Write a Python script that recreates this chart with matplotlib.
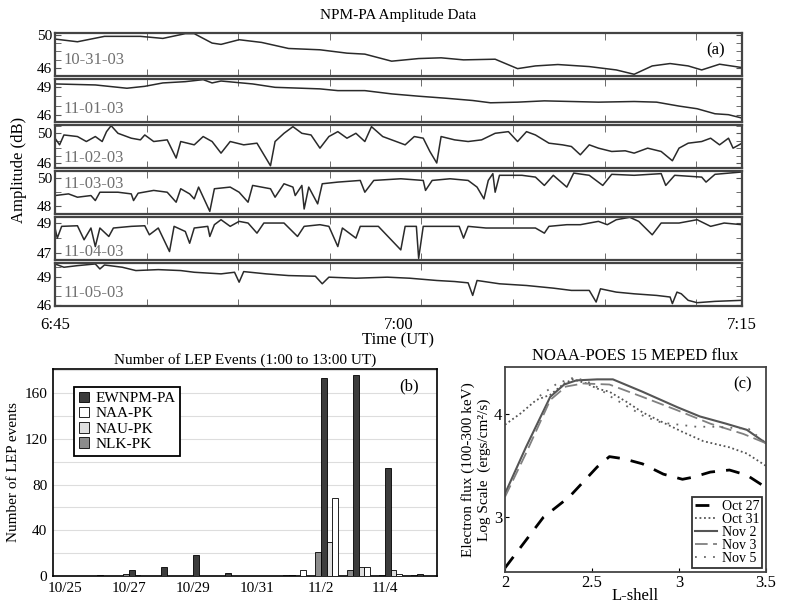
import numpy as np
import matplotlib
matplotlib.use("Agg")
import matplotlib.pyplot as plt
from matplotlib.ticker import FixedLocator

plt.rcParams['font.family'] = ['Liberation Serif', 'DejaVu Serif']
plt.rcParams['font.size'] = 11

# ---- panel (a): NPM-PA amplitude, minutes after 6:45 UT, dB ----
dates_a = ['10-31-03', '11-01-03', '11-02-03', '11-03-03', '11-04-03', '11-05-03']

t1 = [0, 0.98, 2.16, 3.73, 4.71, 5.69, 6.08, 6.86, 7.25, 8.04, 9.02, 10.2, 11.57, 12.75, 13.53,
      14.7, 15.88, 16.86, 17.84, 19.22, 20.2, 20.98, 21.96, 23.33, 24.51, 25.29, 26.08, 26.86,
      27.65, 28.24, 29.02, 30]
a1 = [49.51, 49.18, 49.84, 49.84, 49.59, 50.17, 50.17, 49.02, 48.86, 49.43, 49.10, 48.36, 48.20,
      47.79, 47.67, 46.81, 47.13, 47.22, 46.97, 47.05, 45.90, 46.23, 46.40, 46.15, 45.74, 45.21,
      46.23, 46.52, 46.23, 45.74, 46.44, 46.03]

t2 = [0, 1.76, 3.14, 3.92, 4.71, 5.69, 6.47, 6.86, 7.25, 8.63, 9.61, 10.78, 11.57, 12.35, 13.53,
      14.71, 15.88, 17.06, 18.24, 19.02, 20.2, 21.37, 22.55, 23.73, 25.29, 26.27, 27.25, 28.04,
      28.82, 29.41, 30]
a2 = [49.36, 49.25, 48.89, 49.10, 49.47, 49.61, 49.83, 49.47, 49.68, 49.36, 48.99, 48.89, 48.82,
      48.63, 48.63, 48.27, 48.02, 47.80, 47.55, 47.30, 47.37, 47.51, 47.44, 47.37, 47.44, 47.37,
      46.94, 46.65, 46.10, 46.00, 45.63]

t3 = [0, 0.2, 0.39, 0.98, 1.37, 1.76, 2.06, 2.25, 2.45, 2.75, 3.33, 3.73, 3.92, 4.31, 4.9, 5.29,
      5.49, 6.08, 6.47, 6.86, 7.25, 7.65, 8.24, 8.82, 9.41, 9.61, 10.0, 10.39, 10.78, 11.18, 11.57,
      11.96, 12.35, 12.75, 13.14, 13.53, 13.82, 14.31, 14.9, 15.29, 15.69, 16.08, 16.37, 16.67,
      16.86, 17.45, 18.04, 18.63, 19.22, 19.8, 20.2, 20.59, 20.98, 21.57, 22.16, 22.55, 22.94,
      23.33, 23.73, 24.31, 24.9, 25.29, 25.88, 26.47, 26.96, 27.25, 27.65, 28.24, 28.63, 29.02,
      29.41, 29.61, 30]
a3 = [49.35, 48.47, 49.78, 49.57, 48.91, 49.57, 48.91, 50.22, 51.01, 50.00, 49.35, 49.13, 49.78,
      48.91, 49.13, 46.72, 48.91, 48.47, 49.57, 48.91, 47.37, 48.91, 48.47, 48.69, 45.70, 48.91,
      50.00, 50.88, 50.00, 49.78, 48.03, 49.57, 50.22, 49.35, 50.00, 48.91, 50.88, 49.57, 48.91,
      48.47, 49.57, 49.35, 47.59, 46.06, 49.57, 49.13, 48.91, 49.13, 50.00, 50.22, 48.91, 50.22,
      49.78, 48.69, 48.47, 48.25, 47.15, 48.47, 48.03, 47.59, 47.68, 47.37, 48.03, 47.59, 46.36,
      48.03, 48.69, 48.91, 49.35, 48.47, 49.35, 48.03, 48.69]

t4 = [0, 0.59, 0.98, 1.57, 1.76, 1.96, 2.75, 3.33, 3.43, 3.63, 4.31, 4.9, 5.29, 5.49, 5.88, 6.08,
      6.27, 6.76, 6.96, 7.65, 8.04, 8.43, 8.63, 9.41, 9.61, 10.0, 10.39, 10.49, 10.78, 10.88, 11.08,
      11.47, 11.67, 12.35, 13.33, 13.53, 13.92, 15.1, 16.08, 16.18, 16.47, 17.25, 18.04, 18.43,
      18.73, 18.92, 19.12, 19.22, 19.41, 20.39, 20.98, 21.37, 21.76, 22.35, 22.65, 23.33, 23.92,
      24.31, 25.29, 26.47, 26.67, 27.06, 28.24, 28.43, 28.82, 30]
a4 = [48.73, 48.85, 48.61, 48.73, 48.37, 48.97, 48.97, 48.85, 48.37, 48.90, 49.10, 48.97, 48.25,
      49.22, 48.85, 48.49, 49.34, 47.59, 49.22, 49.34, 48.97, 48.25, 49.46, 49.22, 48.61, 49.58,
      49.34, 48.73, 49.46, 47.76, 49.34, 48.13, 49.58, 49.70, 49.82, 48.97, 49.82, 49.94, 49.82,
      49.10, 49.82, 49.94, 49.82, 49.34, 48.49, 49.82, 50.31, 48.97, 50.19, 50.19, 50.06, 49.46,
      50.19, 49.34, 50.35, 50.19, 49.46, 50.26, 50.19, 50.31, 49.46, 50.19, 50.06, 49.70, 50.26,
      50.43]

t5 = [0, 0.1, 0.29, 0.98, 1.27, 1.57, 1.76, 1.96, 2.35, 2.55, 3.33, 3.92, 4.12, 4.51, 5.0, 5.2,
      5.69, 5.88, 6.08, 6.67, 6.76, 6.96, 7.25, 7.65, 8.04, 8.43, 8.82, 9.12, 10.0, 10.59, 10.88,
      11.57, 11.96, 12.35, 12.55, 13.14, 13.33, 14.12, 15.1, 15.29, 15.78, 15.88, 16.08, 17.06,
      17.65, 17.84, 18.04, 18.82, 20.2, 20.98, 21.37, 21.57, 22.35, 22.94, 23.73, 24.12, 24.51,
      25.1, 25.49, 26.08, 26.47, 27.25, 28.04, 28.63, 29.22, 30]
a5 = [48.67, 48.00, 48.78, 48.82, 47.89, 48.67, 47.44, 48.67, 48.11, 48.67, 48.78, 48.82, 48.22,
      48.67, 47.11, 48.78, 48.44, 47.66, 48.67, 48.78, 48.11, 48.89, 49.22, 48.78, 49.11, 49.00,
      48.33, 49.00, 49.00, 48.11, 48.78, 48.89, 48.78, 47.44, 48.67, 48.00, 48.78, 48.78, 47.22,
      48.78, 48.78, 46.66, 48.78, 48.78, 48.78, 48.00, 48.78, 48.67, 48.67, 48.67, 48.33, 48.78,
      48.89, 48.89, 49.11, 48.89, 49.22, 49.38, 49.11, 48.22, 49.00, 49.00, 49.22, 48.78, 49.00,
      48.89]

t6 = [0, 0.39, 0.98, 1.76, 1.96, 2.16, 2.94, 3.53, 4.51, 5.49, 6.08, 7.25, 7.84, 8.04, 8.24, 9.22,
      10.2, 11.37, 11.67, 11.96, 13.14, 14.51, 15.49, 16.67, 17.45, 18.04, 18.24, 18.43, 19.41,
      20.59, 21.76, 22.55, 23.33, 23.63, 23.82, 24.51, 25.29, 26.27, 26.86, 26.96, 27.16, 27.35,
      27.65, 28.04, 28.82, 30]
a6 = [50.35, 50.00, 50.17, 50.35, 49.82, 50.24, 50.00, 49.65, 49.75, 49.65, 49.47, 49.30, 49.47,
      48.42, 49.54, 49.30, 49.12, 49.05, 48.25, 48.95, 48.84, 48.95, 48.84, 48.60, 48.49, 48.35,
      47.02, 48.60, 48.25, 48.07, 47.79, 47.55, 47.55, 46.32, 47.72, 47.37, 47.19, 47.02, 46.85,
      46.15, 47.37, 47.19, 46.50, 46.25, 46.39, 46.50]

times_a = [t1, t2, t3, t4, t5, t6]
amps_a = [a1, a2, a3, a4, a5, a6]
ylims_a = [(45.0, 50.25), (45.2, 49.9), (45.4, 51.1), (47.4, 50.5), (46.55, 49.4), (45.9, 50.45)]
yticks_a = [[46, 50], [46, 49], [46, 50], [48, 50], [47, 49], [46, 49]]
date_y = [0.37, 0.31, 0.23, 0.69, 0.19, 0.31]

# ---- panel (b): LEP event counts per day ----
days_b = ['10/25', '10/26', '10/27', '10/28', '10/29', '10/30', '10/31',
          '11/1', '11/2', '11/3', '11/4', '11/5']
ewnpm = [0, 1, 5, 8, 18, 3, 0, 1, 173, 176, 94, 2]
naa = [0, 0, 0, 0, 0, 0, 0, 5, 68, 8, 2, 0]
nau = [0, 0, 1, 0, 0, 0, 0, 0, 30, 8, 5, 0]
nlk = [0, 0, 2, 0, 0, 0, 0, 1, 21, 5, 1, 1]

# ---- panel (c): POES flux vs L-shell ----
L_oct27 = [2.0, 2.22, 2.37, 2.53, 2.6, 2.68, 2.79, 2.91, 3.02, 3.08, 3.18, 3.29, 3.39, 3.5]
f_oct27 = [2.51, 3.0, 3.2, 3.49, 3.59, 3.57, 3.52, 3.42, 3.37, 3.39, 3.44, 3.46, 3.41, 3.29]
L_oct31 = [2.0, 2.09, 2.18, 2.26, 2.34, 2.39, 2.47, 2.53, 2.6, 2.7, 2.79, 2.91, 3.02, 3.14, 3.29, 3.39, 3.5]
f_oct31 = [3.9, 4.01, 4.14, 4.19, 4.30, 4.34, 4.30, 4.25, 4.22, 4.12, 4.02, 3.92, 3.83, 3.74, 3.68, 3.62, 3.5]
L_nov2 = [2.0, 2.12, 2.26, 2.34, 2.41, 2.53, 2.62, 2.79, 2.99, 3.12, 3.27, 3.39, 3.5]
f_nov2 = [3.23, 3.68, 4.17, 4.29, 4.33, 4.34, 4.34, 4.22, 4.07, 3.98, 3.91, 3.85, 3.72]
L_nov3 = [2.0, 2.12, 2.26, 2.35, 2.45, 2.6, 2.79, 2.99, 3.18, 3.37, 3.5]
f_nov3 = [3.2, 3.62, 4.14, 4.27, 4.30, 4.29, 4.17, 4.04, 3.91, 3.81, 3.72]
L_nov5 = [2.2, 2.3, 2.4, 2.5, 2.6, 2.7, 2.8, 2.9, 3.0, 3.1, 3.2, 3.3, 3.4, 3.5]
f_nov5 = [4.18, 4.3, 4.36, 4.3, 4.18, 4.08, 3.98, 3.92, 3.9, 3.88, 3.88, 3.87, 3.86, 3.72]

W, H = 788, 603
fig = plt.figure(figsize=(W / 100, H / 100), dpi=100)


def px_axes(left, top, right, bottom):
    return fig.add_axes([left / W, 1 - bottom / H, (right - left) / W, (bottom - top) / H])


# top stack
panel_top, panel_h, gap = 33, 43, 3
axes_a = []
for i in range(6):
    top = panel_top + i * (panel_h + gap)
    ax = px_axes(55, top, 742, top + panel_h)
    ax.plot(times_a[i], amps_a[i], color='#2a2a2a', lw=1.1)
    ax.set_xlim(0, 30)
    ax.set_ylim(*ylims_a[i])
    ax.set_yticks(yticks_a[i])
    lo, hi = ylims_a[i]
    ax.yaxis.set_minor_locator(FixedLocator(list(range(int(np.ceil(lo)), int(hi) + 1))))
    ax.set_xticks([0, 15, 30])
    ax.xaxis.set_minor_locator(FixedLocator([4, 8, 12, 16, 20, 24, 28]))
    ax.tick_params(which='major', axis='x', length=0)
    ax.tick_params(which='minor', axis='x', length=5, direction='in', top=True, bottom=True, color='#555')
    ax.tick_params(which='both', axis='y', direction='in', left=True, right=True, length=4,
                   color='#555', labelsize=11, pad=2)
    if i < 5:
        ax.set_xticklabels([])
    else:
        ax.set_xticklabels(['6:45', '7:00', '7:15'], fontsize=12)
        ax.tick_params(axis='x', which='major', pad=8)
    for s in ax.spines.values():
        s.set_linewidth(1.6)
        s.set_color('#444')
    ax.text(0.012, date_y[i], dates_a[i], transform=ax.transAxes, color='#707070',
            fontsize=12, va='center', ha='left')
    axes_a.append(ax)

axes_a[0].text(0.962, 0.6, '(a)', transform=axes_a[0].transAxes, ha='center', va='center', fontsize=12)
fig.text(398 / W, 1 - 15 / H, 'NPM-PA Amplitude Data', ha='center', va='center', fontsize=11)
fig.text(19 / W, 1 - 170 / H, 'Amplitude (dB)', rotation=90, ha='center', va='center', fontsize=12)
fig.text(398 / W, 1 - 340 / H, 'Time (UT)', ha='center', va='center', fontsize=12)

# panel (b)
axb = px_axes(53, 369, 437, 576)
x = np.arange(len(days_b))
bw = 0.18
axb.bar(x - 0.11, nlk, bw, color='#8c8c8c', edgecolor='black', lw=0.6, label='NLK-PK', zorder=3)
axb.bar(x + 0.08, ewnpm, bw, color='#3c3c3c', edgecolor='black', lw=0.6, label='EWNPM-PA', zorder=3)
axb.bar(x + 0.26, nau, bw, color='#dedede', edgecolor='black', lw=0.6, label='NAU-PK', zorder=3)
axb.bar(x + 0.43, naa, bw, color='white', edgecolor='black', lw=0.6, label='NAA-PK', zorder=3)
axb.set_xlim(-0.38, 11.62)
axb.set_ylim(0, 181)
axb.set_xticks(x[::2])
axb.set_xticklabels(days_b[::2], fontsize=11)
axb.set_yticks([0, 40, 80, 120, 160])
axb.yaxis.set_minor_locator(FixedLocator([20, 60, 100, 140, 180]))
axb.yaxis.grid(True, which='both', color='#dddddd', lw=0.8, zorder=0)
axb.tick_params(axis='both', which='both', length=0, labelsize=11, pad=4)
for s in axb.spines.values():
    s.set_linewidth(1.2)
axb.set_title('Number of LEP Events (1:00 to 13:00 UT)', fontsize=11, pad=4)
axb.set_ylabel('Number of LEP events', fontsize=11)
axb.yaxis.set_label_coords(-0.086, 0.5)
h, l = axb.get_legend_handles_labels()
order = [1, 3, 2, 0]
legb = axb.legend([h[k] for k in order], [l[k] for k in order], loc='upper left',
                  bbox_to_anchor=(0.035, 0.95), fontsize=11, handlelength=0.7, handleheight=0.7,
                  handletextpad=0.4, labelspacing=0.1, borderpad=0.3, fancybox=False,
                  edgecolor='black', framealpha=1)
legb.get_frame().set_linewidth(1.3)
axb.text(0.927, 0.918, '(b)', transform=axb.transAxes, ha='center', va='center', fontsize=12)

# panel (c)
axc = px_axes(505, 367, 766, 572)
axc.plot(L_oct27, f_oct27, color='black', lw=2.0, dashes=(5, 4), label='Oct 27')
axc.plot(L_oct31, f_oct31, color='#555555', lw=1.3, dashes=(1, 1.5), label='Oct 31')
axc.plot(L_nov2, f_nov2, color='#555555', lw=1.5, label='Nov 2')
axc.plot(L_nov3, f_nov3, color='#808080', lw=1.3, dashes=(7, 3), label='Nov 3')
axc.plot(L_nov5, f_nov5, color='#666666', lw=1.3, dashes=(1, 4), label='Nov 5')
axc.set_xlim(2, 3.5)
axc.set_ylim(2.47, 4.46)
axc.set_xticks([2, 2.5, 3, 3.5])
axc.set_xticklabels(['2', '2.5', '3', '3.5'])
axc.set_yticks([3, 4])
axc.tick_params(axis='both', direction='in', length=3, labelsize=12, pad=2)
for s in axc.spines.values():
    s.set_linewidth(1.3)
    s.set_color('#444')
axc.set_title('NOAA-POES 15 MEPED flux', fontsize=12, pad=5)
axc.set_xlabel('L-shell', fontsize=12, labelpad=-2)
axc.set_ylabel('Electron flux (100-300 keV)\nLog Scale  (ergs/cm²/s)', fontsize=11, labelpad=2,
               linespacing=1.25)
legc = axc.legend(loc='lower right', fontsize=10, handlelength=1.6, handletextpad=0.3,
                  labelspacing=0.0, borderpad=0.2, borderaxespad=0.3, fancybox=False,
                  edgecolor='#333', framealpha=1)
legc.get_frame().set_linewidth(1.3)
axc.text(0.912, 0.917, '(c)', transform=axc.transAxes, ha='center', va='center', fontsize=12)

fig.savefig('out.png', dpi=100)
